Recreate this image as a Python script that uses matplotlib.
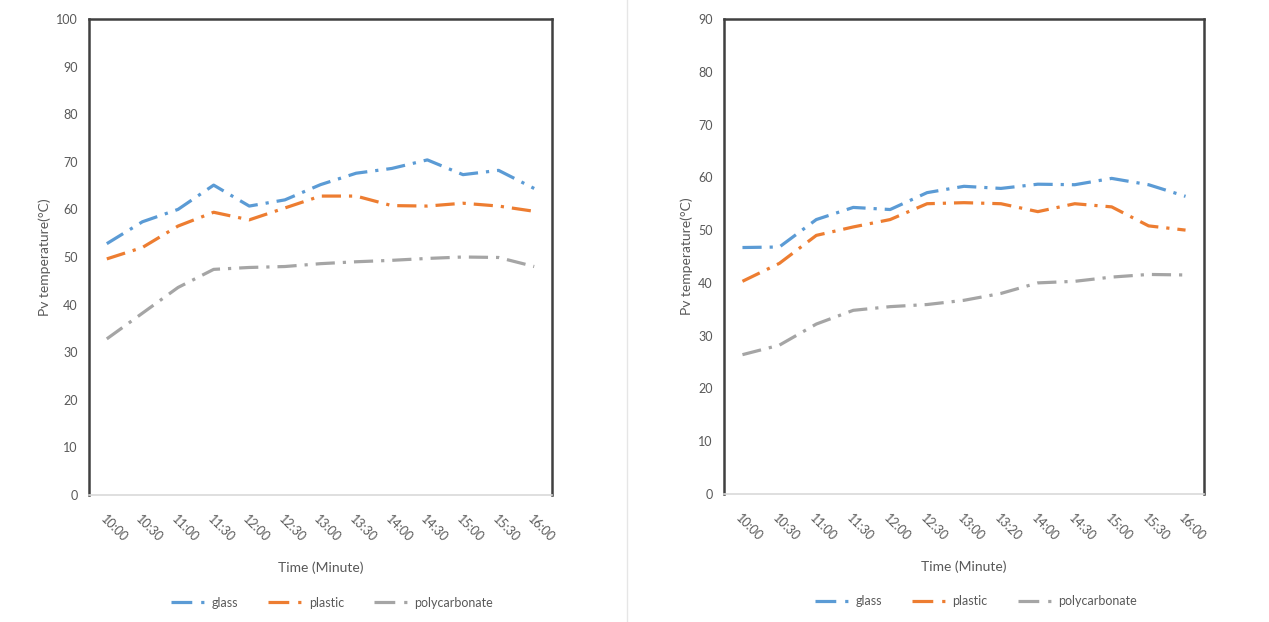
import matplotlib
matplotlib.use("Agg")
import matplotlib.pyplot as plt
from matplotlib.lines import Line2D

plt.rcParams['font.family'] = ['Lato', 'DejaVu Sans']

times_left = ["10:00", "10:30", "11:00", "11:30", "12:00", "12:30", "13:00",
              "13:30", "14:00", "14:30", "15:00", "15:30", "16:00"]
times_right = ["10:00", "10:30", "11:00", "11:30", "12:00", "12:30", "13:00",
               "13:20", "14:00", "14:30", "15:00", "15:30", "16:00"]

glass_left = [52.8, 57.4, 60.0, 65.1, 60.7, 62.0, 65.2, 67.6, 68.6, 70.4, 67.3, 68.2, 64.4]
plastic_left = [49.6, 52.0, 56.5, 59.4, 57.8, 60.3, 62.8, 62.8, 60.8, 60.7, 61.3, 60.7, 59.6]
poly_left = [32.8, 38.2, 43.6, 47.4, 47.8, 48.0, 48.6, 49.0, 49.3, 49.7, 50.0, 49.9, 48.0]

glass_right = [46.7, 46.8, 52.0, 54.3, 53.9, 57.1, 58.3, 57.9, 58.7, 58.6, 59.8, 58.6, 56.4]
plastic_right = [40.3, 43.7, 49.0, 50.6, 52.0, 55.0, 55.2, 55.0, 53.5, 55.0, 54.4, 50.8, 50.0]
poly_right = [26.4, 28.2, 32.2, 34.8, 35.5, 35.9, 36.7, 38.0, 40.0, 40.3, 41.1, 41.6, 41.5]

series_names = ["glass", "plastic", "polycarbonate"]
colors = ["#5B9BD5", "#ED7D31", "#A5A5A5"]
dash = (6, 2.5, 1, 2.5)
legend_dash = (6.5, 2.8, 1, 4)

fig = plt.figure(figsize=(12.69, 6.22), dpi=100)
fig.patch.set_facecolor("white")

W, H = 1269, 622
def rect(l, r, t, b):
    return [l / W, 1 - b / H, (r - l) / W, (b - t) / H]

panels = [
    (rect(89, 552, 19, 495), times_left, [glass_left, plastic_left, poly_left], 100),
    (rect(724, 1204, 19, 494), times_right, [glass_right, plastic_right, poly_right], 90),
]

# separator line between panels
fig.add_artist(Line2D([627 / W, 627 / W], [0.0, 1.0], color="#e6e6e6", lw=1.0))

for pos, cats, data, ymax in panels:
    ax = fig.add_axes(pos)
    x = list(range(len(cats)))
    for vals, c, name in zip(data, colors, series_names):
        ax.plot(x, vals, color=c, lw=2.3, dashes=dash, label=name,
                solid_capstyle="butt", dash_capstyle="butt")
    ax.set_xlim(-0.5, len(cats) - 0.5)
    ax.set_ylim(0, ymax)
    ax.set_yticks(range(0, ymax + 1, 10))
    ax.set_xticks(x)
    ax.set_xticklabels(cats, rotation=-45, ha="left", va="top",
                       rotation_mode="anchor", fontsize=9, color="#595959")
    ax.tick_params(axis="y", labelsize=9, labelcolor="#595959", length=0, pad=8)
    ax.tick_params(axis="x", length=0, pad=13)
    for s in ["top", "right", "left"]:
        ax.spines[s].set_color("#404040")
        ax.spines[s].set_linewidth(1.8)
    ax.spines["bottom"].set_color("#d9d9d9")
    ax.spines["bottom"].set_linewidth(1.2)
    ax.set_ylabel("Pv temperature(°C)", fontsize=10, color="#595959", labelpad=4)
    ax.set_xlabel("Time (Minute)", fontsize=10, color="#595959", labelpad=12)
    handles = [Line2D([0], [0], color=c, lw=2.3, dashes=legend_dash,
                      dash_capstyle="butt") for c in colors]
    ax.legend(handles, series_names, loc="center", bbox_to_anchor=(0.525, -0.226),
              ncol=3, frameon=False, fontsize=9, labelcolor="#595959",
              handlelength=2.7, columnspacing=2.4, handletextpad=0.55)

fig.savefig("out.png", dpi=100, facecolor="white")
